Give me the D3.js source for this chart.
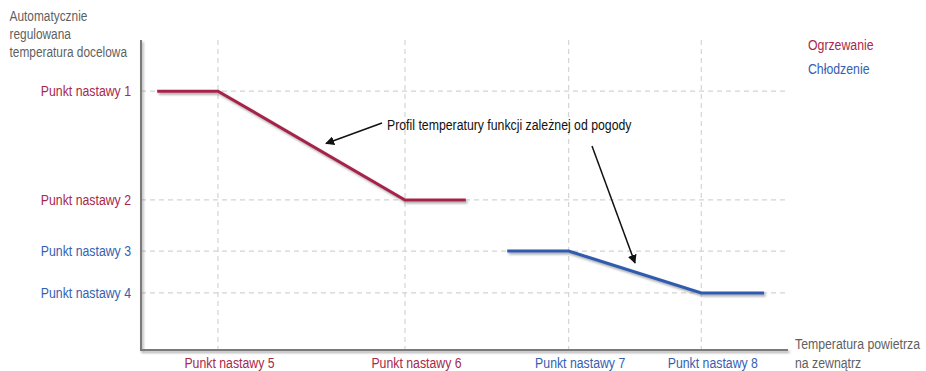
<!DOCTYPE html>
<html>
<head>
<meta charset="utf-8">
<script src="https://cdn.jsdelivr.net/npm/d3@7"></script>
<style>
  html, body { margin: 0; padding: 0; background: #fff; }
  svg { display: block; font-family: "Liberation Sans", Arial, sans-serif; }
</style>
</head>
<body>
<svg id="chart" width="926" height="371"></svg>
<script>
// Set points on the target-temperature axis (arbitrary units)
const yTickLabels = ["Punkt nastawy 1", "Punkt nastawy 2", "Punkt nastawy 3", "Punkt nastawy 4"];
const yTickValues = [83.5, 48.4, 31.9, 18.4];
const yTickSeries = ["heat", "heat", "cool", "cool"];

// Set points on the outdoor-temperature axis (arbitrary units)
const xTickLabels = ["Punkt nastawy 5", "Punkt nastawy 6", "Punkt nastawy 7", "Punkt nastawy 8"];
const xTickValues = [11.9, 40.8, 66.1, 86.6];
const xTickSeries = ["heat", "heat", "cool", "cool"];

// Heating curve: flat at SP1 until SP5, falls to SP2 at SP6, then flat
const heatingX = [2.5, 11.9, 40.8, 50.2];
const heatingY = [83.5, 83.5, 48.4, 48.4];
// Cooling curve: flat at SP3 until SP7, falls to SP4 at SP8, then flat
const coolingX = [56.6, 66.1, 86.6, 96.3];
const coolingY = [31.9, 31.9, 18.4, 18.4];

const seriesNames = ["Ogrzewanie", "Chłodzenie"];
const colors = { heat: "#a6234b", cool: "#2f5db0" };
const labelColors = { heat: "#a8284c", cool: "#3560b0" };

const svg = d3.select("#chart");
const plotLeft = 141, plotRight = 788, plotTop = 40, plotBottom = 350;

const x = d3.scaleLinear().domain([0, 100]).range([plotLeft, plotRight]);
const y = d3.scaleLinear().domain([0, 100]).range([plotBottom, plotTop]);

const defs = svg.append("defs");
const shadow = defs.append("filter").attr("id", "shadow")
  .attr("x", "-5%").attr("y", "-20%").attr("width", "110%").attr("height", "160%");
shadow.append("feDropShadow").attr("dx", 1.5).attr("dy", 2).attr("stdDeviation", 1.2)
  .attr("flood-color", "#555").attr("flood-opacity", 0.5);

defs.append("marker").attr("id", "arrow")
  .attr("viewBox", "0 0 10 10").attr("refX", 9).attr("refY", 5)
  .attr("markerWidth", 6).attr("markerHeight", 6).attr("orient", "auto")
  .append("path").attr("d", "M0,0 L10,5 L0,10 z").attr("fill", "#111");

// Dashed grid
const grid = svg.append("g").attr("stroke", "#d4d4d4").attr("stroke-width", 1.2)
  .attr("stroke-dasharray", "5,4").attr("fill", "none");
grid.selectAll("line.h").data(yTickValues).join("line").attr("class", "h")
  .attr("x1", plotLeft).attr("x2", 785)
  .attr("y1", d => y(d)).attr("y2", d => y(d));
grid.selectAll("line.v").data(xTickValues).join("line").attr("class", "v")
  .attr("x1", d => x(d)).attr("x2", d => x(d))
  .attr("y1", plotTop).attr("y2", plotBottom);

// Axes
const axisY = d3.axisLeft(y).tickValues(yTickValues).tickSize(0).tickPadding(10)
  .tickFormat((d, i) => yTickLabels[i]);
const gy = svg.append("g").attr("transform", `translate(${plotLeft},0)`).call(axisY);
gy.select(".domain").remove();
gy.attr("font-family", null).attr("font-size", null);
gy.selectAll(".tick text").attr("font-size", 15)
  .attr("fill", (d, i) => labelColors[yTickSeries[i]]);

const axisX = d3.axisBottom(x).tickValues(xTickValues).tickSize(0).tickPadding(0)
  .tickFormat((d, i) => xTickLabels[i]);
const gx = svg.append("g").attr("transform", `translate(0,${plotBottom})`).call(axisX);
gx.select(".domain").remove();
gx.attr("font-family", null).attr("font-size", null);
gx.selectAll(".tick text").attr("font-size", 15)
  .attr("dy", null).attr("y", 18.5).attr("x", 11)
  .attr("fill", (d, i) => labelColors[xTickSeries[i]]);

// Axis frame lines
svg.append("path")
  .attr("d", `M${plotLeft},${plotTop} V${plotBottom} H${plotRight}`)
  .attr("fill", "none").attr("stroke", "#7a7a7a").attr("stroke-width", 2)
  .attr("filter", "url(#shadow)");

// Curves
const line = d3.line().x(d => x(d[0])).y(d => y(d[1]));
const curves = [
  { key: "heat", pts: d3.zip(heatingX, heatingY) },
  { key: "cool", pts: d3.zip(coolingX, coolingY) }
];
svg.selectAll("path.curve").data(curves).join("path").attr("class", "curve")
  .attr("d", d => line(d.pts)).attr("fill", "none")
  .attr("stroke", d => colors[d.key]).attr("stroke-width", 3)
  .attr("filter", "url(#shadow)");

// Axis titles, one text element per line
["Automatycznie", "regulowana", "temperatura docelowa"].forEach((t, i) =>
  svg.append("text").attr("x", 9.5).attr("y", 21 + i * 18)
    .attr("fill", "#5f5f5f").attr("font-size", 14.5).text(t));
["Temperatura powietrza", "na zewnątrz"].forEach((t, i) =>
  svg.append("text").attr("x", 795).attr("y", 349 + i * 19)
    .attr("fill", "#5f5f5f").attr("font-size", 15).text(t));

// Legend
const legend = svg.append("g");
seriesNames.forEach((name, i) => {
  const key = i === 0 ? "heat" : "cool";
  const yy = 43.5 + i * 24;
  legend.append("line").attr("x1", 753).attr("x2", 799).attr("y1", yy).attr("y2", yy)
    .attr("stroke", colors[key]).attr("stroke-width", 3).attr("filter", "url(#shadow)");
  legend.append("text").attr("x", 808).attr("y", yy + 7).attr("font-size", 15)
    .attr("fill", labelColors[key]).text(name);
});

// Annotation with two arrows
svg.append("text").attr("x", 387).attr("y", 130).attr("font-size", 15)
  .attr("fill", "#111").text("Profil temperatury funkcji zależnej od pogody");
svg.append("line").attr("x1", 382).attr("y1", 123).attr("x2", 326).attr("y2", 143.5)
  .attr("stroke", "#111").attr("stroke-width", 1.5).attr("marker-end", "url(#arrow)");
svg.append("line").attr("x1", 592).attr("y1", 146).attr("x2", 635).attr("y2", 263)
  .attr("stroke", "#111").attr("stroke-width", 1.5).attr("marker-end", "url(#arrow)");

// Narrow face: squeeze every label horizontally about its anchor point
const condense = 0.82;
svg.selectAll("text").each(function () {
  const ax = +(this.getAttribute("x") || 0);
  d3.select(this).attr("transform",
    `translate(${ax},0) scale(${condense},1) translate(${-ax},0)`);
});
</script>
</body>
</html>
